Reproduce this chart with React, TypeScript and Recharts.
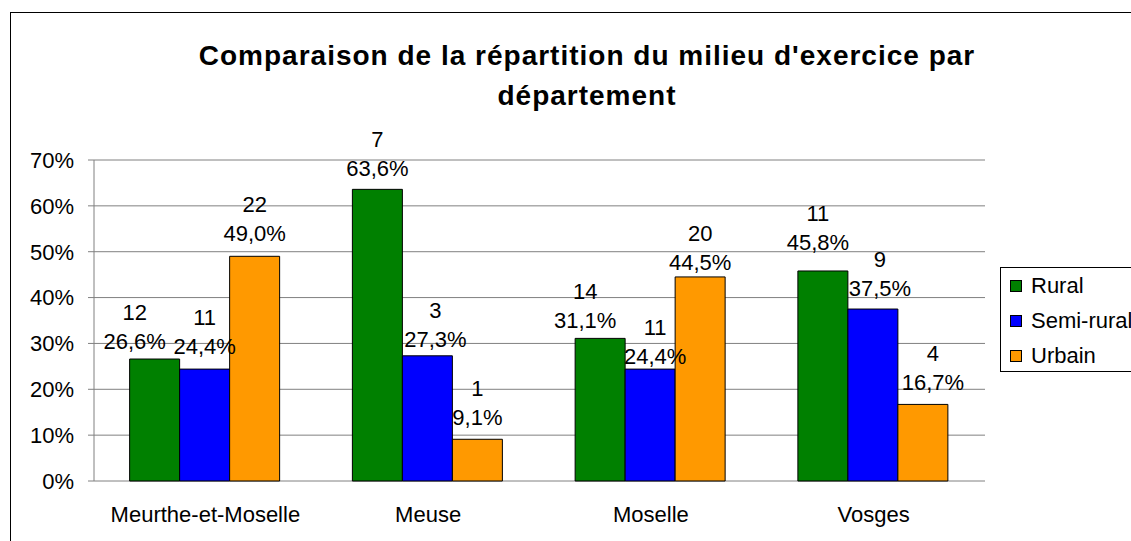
import React from 'react';
import { BarChart, Bar, XAxis, YAxis, CartesianGrid, Legend, LabelList } from 'recharts';

const categories = ['Meurthe-et-Moselle', 'Meuse', 'Moselle', 'Vosges'];
const ruralPct = [26.6, 63.6, 31.1, 45.8];
const semiPct = [24.4, 27.3, 24.4, 37.5];
const urbainPct = [49.0, 9.1, 44.5, 16.7];
const ruralN = [12, 7, 14, 11];
const semiN = [11, 3, 11, 9];
const urbainN = [22, 1, 20, 4];
const yTicks = [0, 10, 20, 30, 40, 50, 60, 70];
const boundaryTicks = [0, 1, 2, 3, 4];
const titleLines = ["Comparaison de la répartition du milieu d'exercice par", 'département'];

// label placement tweaks (dx, gap above bar), as in the original chart
const labelNudge: Record<string, [number, number][]> = {
  rural: [[-20, 10], [0, 13], [-15, 10], [-5, 21]],
  semi: [[0, 15], [8, 9], [5, 5], [7, 13]],
  urbain: [[0, 15], [0, 14], [0, 7], [10, 14]],
};

const series = [
  { key: 'rural', name: 'Rural', color: '#008000' },
  { key: 'semi', name: 'Semi-rural', color: '#0000FF' },
  { key: 'urbain', name: 'Urbain', color: '#FF9900' },
];

const fmt = (v: number) => v.toFixed(1).replace('.', ',') + '%';

const data = categories.map((name, i) => ({
  name,
  rural: ruralPct[i],
  semi: semiPct[i],
  urbain: urbainPct[i],
  ruralLbl: ruralN[i] + '|' + fmt(ruralPct[i]) + '|rural|' + i,
  semiLbl: semiN[i] + '|' + fmt(semiPct[i]) + '|semi|' + i,
  urbainLbl: urbainN[i] + '|' + fmt(urbainPct[i]) + '|urbain|' + i,
}));

const FONT = '"Liberation Sans", Arial, sans-serif';

const TwoLineLabel = (props: any) => {
  const { x, y, width, value } = props;
  if (value == null) return null;
  const [n, p, k, idx] = String(value).split('|');
  const nudge = (labelNudge[k] && labelNudge[k][Number(idx)]) || [0, 12];
  const cx = Number(x) + Number(width) / 2 + nudge[0];
  const top = Number(y);
  return (
    <g>
      <text x={cx} y={top - nudge[1] - 29} textAnchor="middle" fontSize={22} fontFamily={FONT} fill="#000">{n}</text>
      <text x={cx} y={top - nudge[1]} textAnchor="middle" fontSize={22} fontFamily={FONT} fill="#000">{p}</text>
    </g>
  );
};

const LegendBox = () => (
  <div
    style={{
      border: '1px solid #000',
      background: '#fff',
      width: 160,
      height: 105,
      boxSizing: 'border-box',
      paddingTop: 0,
      fontFamily: FONT,
      fontSize: 22,
    }}
  >
    {series.map((s) => (
      <div key={s.key} style={{ display: 'flex', alignItems: 'center', height: 35, paddingLeft: 9 }}>
        <span
          style={{
            display: 'inline-block',
            width: 12,
            height: 12,
            boxSizing: 'border-box',
            background: s.color,
            border: '1px solid #000',
            marginRight: 9,
          }}
        />
        <span style={{ whiteSpace: 'nowrap' }}>{s.name}</span>
      </div>
    ))}
  </div>
);

export default function App() {
  return (
    <div style={{ position: 'absolute', left: 0, top: 0, width: 1131, height: 541, overflow: 'hidden', background: '#fff' }}>
      <div
        style={{
          position: 'absolute',
          left: 10,
          top: 12,
          width: 1300,
          height: 700,
          border: '1.5px solid #000',
          boxSizing: 'border-box',
        }}
      />
      <div
        style={{
          position: 'absolute',
          left: 0,
          top: 36,
          width: 1174,
          textAlign: 'center',
          fontFamily: FONT,
          fontWeight: 'bold',
          fontSize: 28,
          letterSpacing: 1,
          lineHeight: '40px',
          color: '#000',
        }}
      >
        {titleLines.map((t) => (
          <div key={t}>{t}</div>
        ))}
      </div>
      <div style={{ position: 'absolute', left: 0, top: 0 }}>
        <BarChart
          width={1131}
          height={541}
          data={data}
          margin={{ top: 160, right: 146, bottom: 0, left: 0 }}
          barCategoryGap="16%"
          barGap={0}
        >
          <CartesianGrid vertical={false} stroke="#808080" strokeWidth={1} />
          <XAxis
            xAxisId="b"
            type="number"
            domain={[0, 4]}
            ticks={boundaryTicks}
            allowDataOverflow
            height={0}
            tick={false}
            tickSize={7}
            axisLine={{ stroke: '#808080' }}
            tickLine={{ stroke: '#808080' }}
          />
          <XAxis
            dataKey="name"
            height={60}
            axisLine={false}
            tickLine={false}
            tickSize={0}
            tickMargin={25}
            tick={{ fontSize: 22, fontFamily: FONT, fill: '#000' }}
            interval={0}
          />
          <YAxis
            width={94}
            domain={[0, 70]}
            ticks={yTicks}
            interval={0}
            tickFormatter={(v: number) => v + '%'}
            axisLine={{ stroke: '#808080' }}
            tickLine={{ stroke: '#808080' }}
            tickSize={6}
            tickMargin={14}
            tick={{ fontSize: 22, fontFamily: FONT, fill: '#000' }}
          />
          <Legend
            layout="vertical"
            align="center"
            verticalAlign="middle"
            wrapperStyle={{ left: 1000, top: 267, width: 160 }}
            content={() => <LegendBox />}
          />
          {series.map((s) => (
            <Bar
              key={s.key}
              dataKey={s.key}
              name={s.name}
              fill={s.color}
              stroke="#000"
              strokeWidth={1}
              isAnimationActive={false}
            >
              <LabelList dataKey={s.key + 'Lbl'} content={TwoLineLabel} />
            </Bar>
          ))}
        </BarChart>
      </div>
    </div>
  );
}
